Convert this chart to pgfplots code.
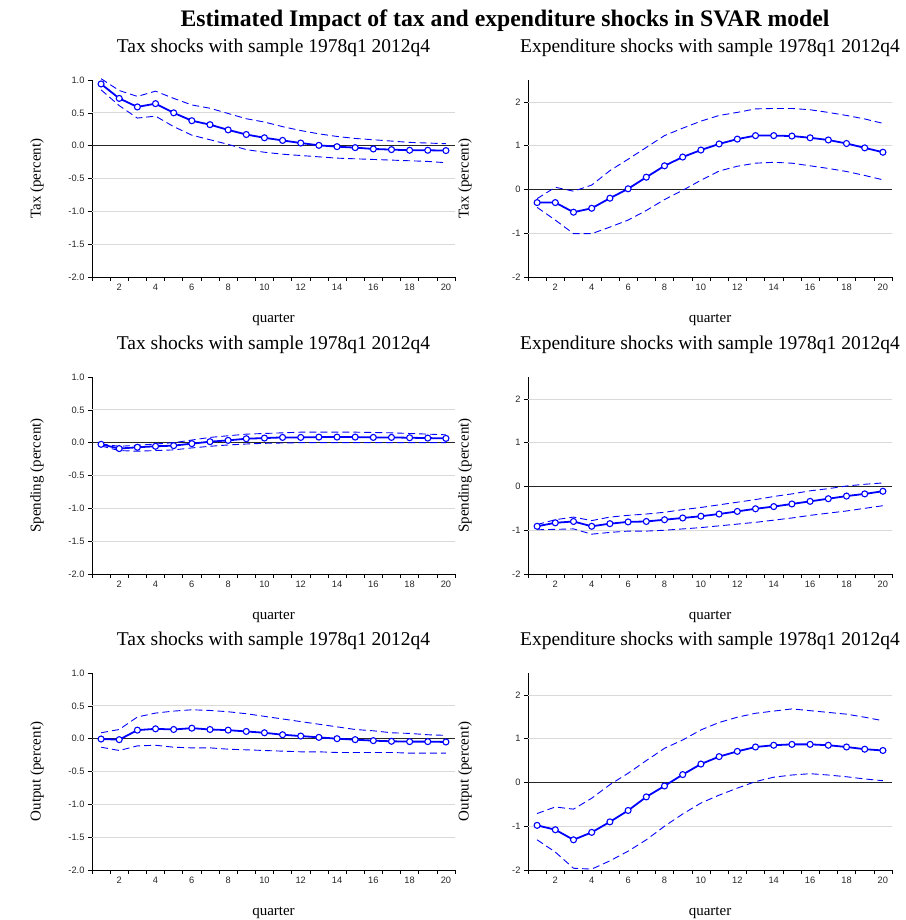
\documentclass[border=0pt]{standalone}
\usepackage{fontspec}
\setmainfont{Liberation Serif}
\setsansfont{Liberation Sans}
\usepackage{pgfplots}
\usepackage{pgfplotstable}
\pgfplotsset{compat=1.18}

% tax shock -> tax
\pgfplotstableread{
x m u l
1 0.94 1.02 0.85
2 0.72 0.84 0.61
3 0.59 0.75 0.42
4 0.64 0.83 0.45
5 0.50 0.72 0.29
6 0.38 0.62 0.16
7 0.32 0.57 0.09
8 0.24 0.49 0.02
9 0.17 0.41 -0.06
10 0.12 0.36 -0.10
11 0.08 0.29 -0.13
12 0.04 0.23 -0.15
13 0.005 0.18 -0.17
14 -0.015 0.14 -0.19
15 -0.03 0.11 -0.20
16 -0.05 0.09 -0.21
17 -0.06 0.07 -0.22
18 -0.07 0.05 -0.23
19 -0.07 0.04 -0.24
20 -0.075 0.03 -0.26
}\taxtax

% expenditure shock -> tax
\pgfplotstableread{
x m u l
1 -0.30 -0.21 -0.41
2 -0.30 0.05 -0.70
3 -0.52 -0.04 -1.01
4 -0.43 0.10 -1.01
5 -0.20 0.43 -0.86
6 0.015 0.69 -0.70
7 0.28 0.96 -0.48
8 0.54 1.23 -0.23
9 0.74 1.40 -0.02
10 0.90 1.56 0.21
11 1.04 1.69 0.42
12 1.15 1.76 0.53
13 1.23 1.84 0.60
14 1.23 1.85 0.62
15 1.22 1.85 0.60
16 1.18 1.82 0.54
17 1.13 1.76 0.48
18 1.05 1.69 0.41
19 0.95 1.61 0.32
20 0.85 1.51 0.22
}\exptax

% tax shock -> spending
\pgfplotstableread{
x m u l
1 -0.025 -0.02 -0.05
2 -0.09 -0.055 -0.12
3 -0.07 -0.04 -0.13
4 -0.055 -0.02 -0.12
5 -0.045 0.0 -0.11
6 -0.015 0.04 -0.08
7 0.015 0.08 -0.055
8 0.035 0.105 -0.035
9 0.06 0.13 -0.02
10 0.07 0.14 -0.01
11 0.08 0.15 -0.005
12 0.08 0.16 0.0
13 0.085 0.16 0.0
14 0.085 0.16 0.0
15 0.085 0.16 0.0
16 0.08 0.155 0.0
17 0.08 0.15 0.0
18 0.075 0.14 0.0
19 0.07 0.13 0.0
20 0.065 0.12 0.0
}\taxspend

% expenditure shock -> spending
\pgfplotstableread{
x m u l
1 -0.91 -0.87 -0.99
2 -0.83 -0.76 -0.98
3 -0.80 -0.70 -0.97
4 -0.91 -0.78 -1.09
5 -0.85 -0.70 -1.05
6 -0.81 -0.66 -1.02
7 -0.80 -0.63 -1.02
8 -0.76 -0.59 -1.00
9 -0.72 -0.53 -0.97
10 -0.68 -0.48 -0.94
11 -0.63 -0.42 -0.90
12 -0.57 -0.36 -0.86
13 -0.51 -0.30 -0.82
14 -0.46 -0.23 -0.77
15 -0.40 -0.17 -0.72
16 -0.34 -0.10 -0.66
17 -0.28 -0.05 -0.61
18 -0.22 0.01 -0.56
19 -0.17 0.05 -0.50
20 -0.11 0.08 -0.44
}\expspend

% tax shock -> output
\pgfplotstableread{
x m u l
1 -0.005 0.09 -0.13
2 -0.015 0.14 -0.18
3 0.13 0.33 -0.11
4 0.15 0.39 -0.10
5 0.14 0.42 -0.13
6 0.16 0.44 -0.14
7 0.14 0.43 -0.14
8 0.13 0.41 -0.16
9 0.11 0.38 -0.17
10 0.09 0.34 -0.18
11 0.06 0.30 -0.19
12 0.04 0.26 -0.20
13 0.02 0.22 -0.20
14 0.0 0.18 -0.21
15 -0.015 0.14 -0.21
16 -0.03 0.12 -0.21
17 -0.04 0.09 -0.21
18 -0.045 0.08 -0.22
19 -0.045 0.06 -0.22
20 -0.05 0.05 -0.22
}\taxout

% expenditure shock -> output
\pgfplotstableread{
x m u l
1 -0.98 -0.71 -1.31
2 -1.08 -0.56 -1.59
3 -1.31 -0.61 -1.96
4 -1.14 -0.36 -1.98
5 -0.90 -0.05 -1.79
6 -0.64 0.21 -1.57
7 -0.33 0.50 -1.31
8 -0.08 0.78 -1.00
9 0.18 0.97 -0.72
10 0.42 1.20 -0.47
11 0.59 1.37 -0.29
12 0.71 1.49 -0.13
13 0.81 1.58 0.02
14 0.85 1.63 0.12
15 0.87 1.68 0.17
16 0.87 1.64 0.20
17 0.85 1.60 0.17
18 0.81 1.56 0.13
19 0.76 1.49 0.08
20 0.73 1.41 0.04
}\expout

\pgfplotsset{
  irf/.style={
    scale only axis, height=197pt,
    anchor=south west,
    xmin=0.5, xmax=20.5,
    axis x line=bottom, axis y line=left,
    axis line style={-, black, line width=0.8pt},
    tick align=outside,
    tick style={black, line width=0.6pt},
    major tick length=4pt,
    xtick={0.5,1.5,...,20.5}, xticklabels={},
    extra x ticks={2,4,...,20},
    extra x tick style={grid=none, major tick length=0pt,
      xticklabel style={text height=7pt, text depth=0pt, yshift=-3pt}},
    ticklabel style={font=\sffamily\fontsize{9.3}{10}\selectfont, text=black!85},
    /pgf/number format/assume math mode=true,
    xlabel={quarter},
    xlabel style={at={(axis description cs:0.5,0)}, anchor=center, yshift=-43pt, font=\fontsize{15}{17}\selectfont},
    ylabel style={at={(axis description cs:0,0.5)}, anchor=center, font=\fontsize{15}{17}\selectfont},
    title style={at={(axis description cs:0.5,1)}, anchor=center, yshift=26pt, font=\fontsize{19.5}{22}\selectfont},
    major grid style={black!15, line width=0.7pt},
    clip=false,
  },
  leftp/.style={irf, width=363pt,
    ymin=-2, ymax=1,
    ytick={-2,-1.5,...,1},
    yticklabel style={/pgf/number format/.cd, fixed, fixed zerofill, precision=1},
    extra y ticks={-1.5,-1,-0.5,0.5}, extra y tick labels={},
    extra y tick style={grid=major, major tick length=0pt},
    ylabel style={yshift=55pt},
    title={Tax shocks with sample 1978q1 2012q4},
  },
  rightp/.style={irf, width=364pt,
    ymin=-2, ymax=2.5,
    ytick={-2,-1,...,2},
    extra y ticks={-1,1,2}, extra y tick labels={},
    extra y tick style={grid=major, major tick length=0pt},
    ylabel style={yshift=63pt},
    title={Expenditure shocks with sample 1978q1 2012q4},
  },
  band/.style={blue, line width=0.9pt, dash pattern=on 7pt off 4pt, forget plot},
  mainline/.style={blue, line width=1.8pt, mark=*, mark size=3pt,
    mark options={fill=white, draw=blue, line width=1.1pt, solid}},
  zeroline/.style={black!85, line width=0.9pt, forget plot},
}

\newcommand{\irf}[1]{%
  \addplot[zeroline] coordinates {(0.5,0) (20.5,0)};
  \addplot[band] table[x=x, y=u] {#1};
  \addplot[band] table[x=x, y=l] {#1};
  \addplot[mainline] table[x=x, y=m] {#1};
}

\begin{document}
\begin{tikzpicture}
\path[use as bounding box] (0,0) rectangle (905pt,-920pt);
\node[font=\bfseries\fontsize{23.7}{26}\selectfont] at (505pt,-21pt) {Estimated Impact of tax and expenditure shocks in SVAR model};

\begin{axis}[leftp, at={(92pt,-277pt)}, ylabel={Tax (percent)}]
\irf{\taxtax}
\end{axis}
\begin{axis}[rightp, at={(528pt,-277pt)}, ylabel={Tax (percent)}]
\irf{\exptax}
\end{axis}

\begin{axis}[leftp, at={(92pt,-574pt)}, ylabel={Spending (percent)}]
\irf{\taxspend}
\end{axis}
\begin{axis}[rightp, at={(528pt,-574pt)}, ylabel={Spending (percent)}]
\irf{\expspend}
\end{axis}

\begin{axis}[leftp, at={(92pt,-870pt)}, ylabel={Output (percent)}]
\irf{\taxout}
\end{axis}
\begin{axis}[rightp, at={(528pt,-870pt)}, ylabel={Output (percent)}]
\irf{\expout}
\end{axis}
\end{tikzpicture}
\end{document}
